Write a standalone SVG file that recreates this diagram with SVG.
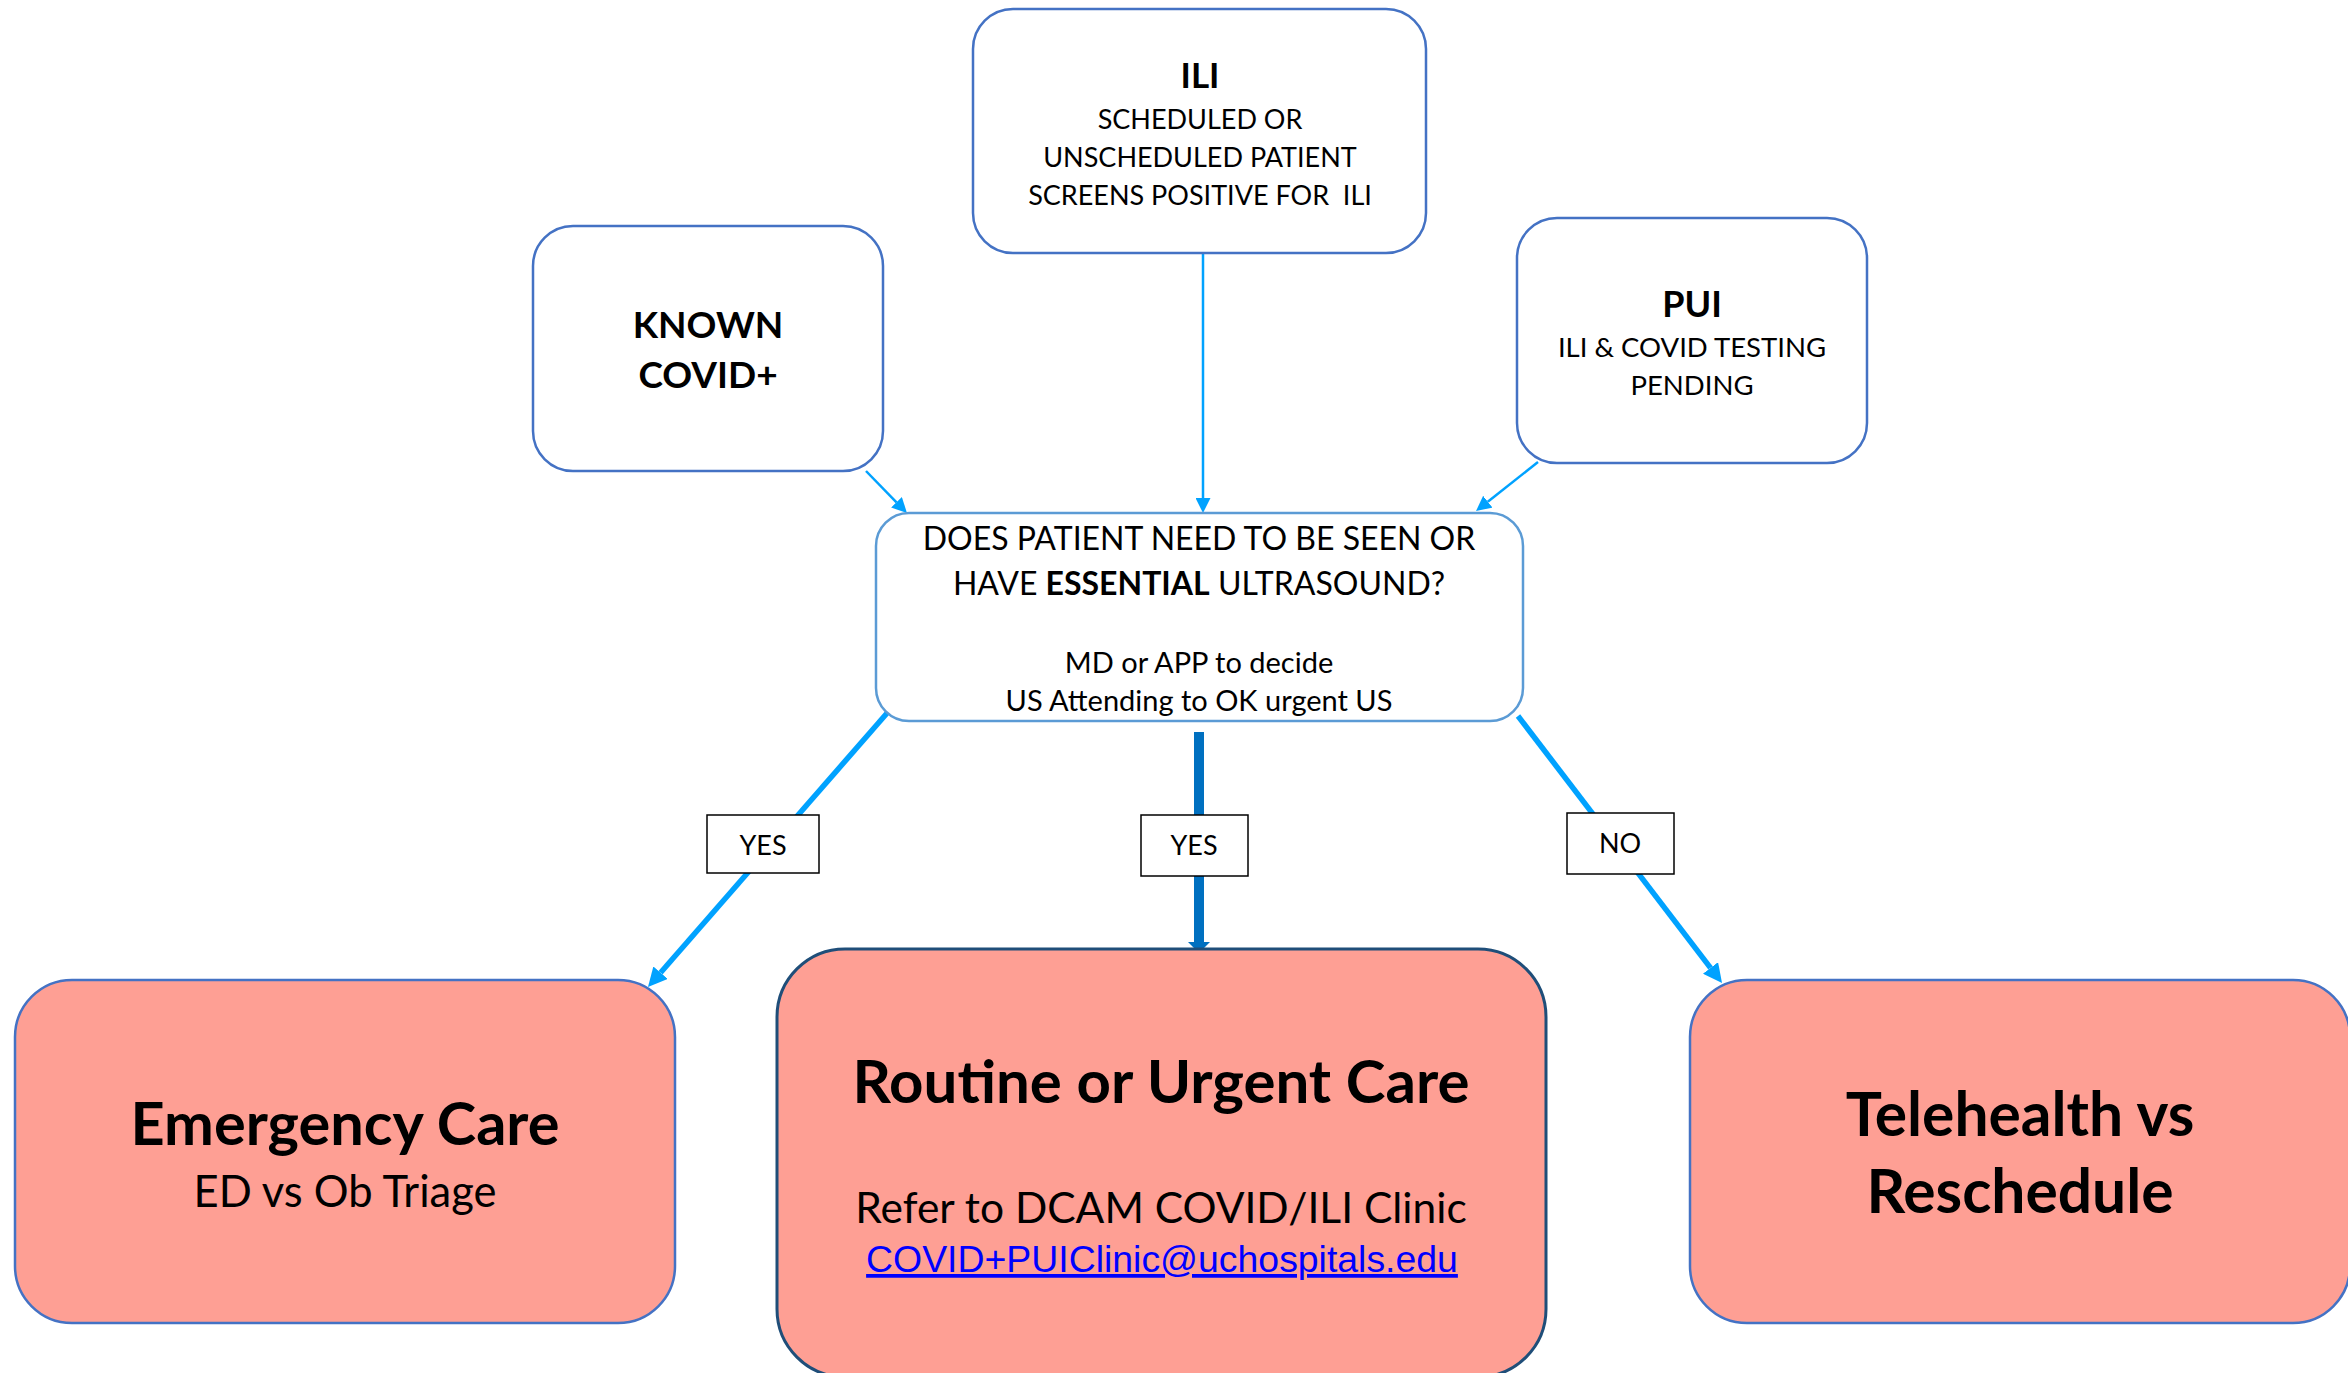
<svg xmlns="http://www.w3.org/2000/svg" width="2348" height="1373" viewBox="0 0 2348 1373">
  <style>
    .t { font-family: Lato, "Open Sans", "Liberation Sans", sans-serif; fill: #000; text-anchor: middle; white-space: pre; }
    .b { font-weight: bold; }
    .top { fill: #fff; stroke: #4472C4; stroke-width: 2.5; }
    .dec { fill: #fff; stroke: #5B9BD5; stroke-width: 2.5; }
    .out { fill: #FE9F94; stroke: #4472C4; stroke-width: 2.5; }
    .outd { fill: #FE9F94; stroke: #1F4E79; stroke-width: 3; }
    .lbl { fill: #fff; stroke: #000; stroke-width: 1.5; }
    .thin { stroke: #00A2FF; stroke-width: 2.5; fill: none; }
    .med { stroke: #00A2FF; stroke-width: 5.5; fill: none; }
    .thick { stroke: #0070C0; stroke-width: 10; fill: none; }
  </style>
  <defs>
    <marker id="ahThin" markerUnits="userSpaceOnUse" markerWidth="15" markerHeight="15" refX="0" refY="7.5" orient="auto" viewBox="0 0 15 15">
      <path d="M0,0 L15,7.5 L0,15 z" fill="#00A2FF"/>
    </marker>
    <marker id="ahMed" markerUnits="userSpaceOnUse" markerWidth="19" markerHeight="19" refX="0" refY="9.5" orient="auto" viewBox="0 0 19 19">
      <path d="M0,0 L19,9.5 L0,19 z" fill="#00A2FF"/>
    </marker>
  </defs>

  <g id="connectors">
    <line class="thin" x1="1203" y1="237" x2="1203" y2="498" marker-end="url(#ahThin)"/>
    <line class="thin" x1="866" y1="471" x2="896.5" y2="502.3" marker-end="url(#ahThin)"/>
    <line class="thin" x1="1538" y1="462" x2="1487.8" y2="501.7" marker-end="url(#ahThin)"/>
    <line class="med" x1="888" y1="712" x2="660.5" y2="972.7" marker-end="url(#ahMed)"/>
    <line class="med" x1="1518" y1="716" x2="1710.5" y2="967.9" marker-end="url(#ahMed)"/>
    <line class="thick" x1="1199" y1="732" x2="1199" y2="943"/>
    <polygon points="1188,942 1210,942 1199,953" fill="#0070C0"/>
  </g>

  <g id="node-ili">
    <rect class="top" x="973" y="9" width="453" height="244" rx="40" ry="40"/>
    <text class="t b" x="1200" y="88" font-size="35">ILI</text>
    <text class="t" x="1200" y="129" font-size="27">SCHEDULED OR</text>
    <text class="t" x="1200" y="167" font-size="27">UNSCHEDULED PATIENT</text>
    <text class="t" x="1200" y="205" font-size="27" xml:space="preserve">SCREENS POSITIVE FOR  ILI</text>
  </g>

  <g id="node-known">
    <rect class="top" x="533" y="226" width="350" height="245" rx="40" ry="40"/>
    <text class="t b" x="708" y="338" font-size="37">KNOWN</text>
    <text class="t b" x="708" y="388" font-size="37">COVID+</text>
  </g>

  <g id="node-pui">
    <rect class="top" x="1517" y="218" width="350" height="245" rx="40" ry="40"/>
    <text class="t b" x="1692" y="317" font-size="36">PUI</text>
    <text class="t" x="1692" y="357" font-size="27.5">ILI &amp; COVID TESTING</text>
    <text class="t" x="1692" y="395" font-size="27.5">PENDING</text>
  </g>

  <g id="node-decision">
    <rect class="dec" x="876" y="513" width="647" height="208" rx="33" ry="33"/>
    <text class="t" x="1199" y="550" font-size="32">DOES PATIENT NEED TO BE SEEN OR</text>
    <text class="t" x="1199" y="595" font-size="32">HAVE <tspan class="b">ESSENTIAL</tspan> ULTRASOUND?</text>
    <text class="t" x="1199" y="673" font-size="29">MD or APP to decide</text>
    <text class="t" x="1199" y="711" font-size="29">US Attending to OK urgent US</text>
  </g>

  <g id="label-yes-left">
    <rect class="lbl" x="707" y="815" width="112" height="58"/>
    <text class="t" x="763" y="855" font-size="27">YES</text>
  </g>
  <g id="label-yes-center">
    <rect class="lbl" x="1141" y="815" width="107" height="61"/>
    <text class="t" x="1194" y="855" font-size="27">YES</text>
  </g>
  <g id="label-no">
    <rect class="lbl" x="1567" y="813" width="107" height="61"/>
    <text class="t" x="1620" y="853" font-size="27">NO</text>
  </g>

  <g id="node-emergency">
    <rect class="out" x="15" y="980" width="660" height="343" rx="57" ry="57"/>
    <text class="t b" x="345" y="1145" font-size="59.5">Emergency Care</text>
    <text class="t" x="345" y="1207" font-size="43.5">ED vs Ob Triage</text>
  </g>

  <g id="node-routine">
    <rect class="outd" x="777" y="949" width="769" height="428" rx="68" ry="68"/>
    <text class="t b" x="1161" y="1103" font-size="60">Routine or Urgent Care</text>
    <text class="t" x="1161" y="1223" font-size="42.5">Refer to DCAM COVID/ILI Clinic</text>
    <text x="1162" y="1272" font-size="37.4" font-family="'Liberation Sans', Arial, sans-serif" fill="#0000FF" text-anchor="middle" text-decoration="underline">COVID+PUIClinic@uchospitals.edu</text>
  </g>

  <g id="node-telehealth">
    <rect class="out" x="1690" y="980" width="660" height="343" rx="57" ry="57"/>
    <text class="t b" x="2020" y="1136" font-size="60.5">Telehealth vs</text>
    <text class="t b" x="2020" y="1213" font-size="60.5">Reschedule</text>
  </g>
</svg>
